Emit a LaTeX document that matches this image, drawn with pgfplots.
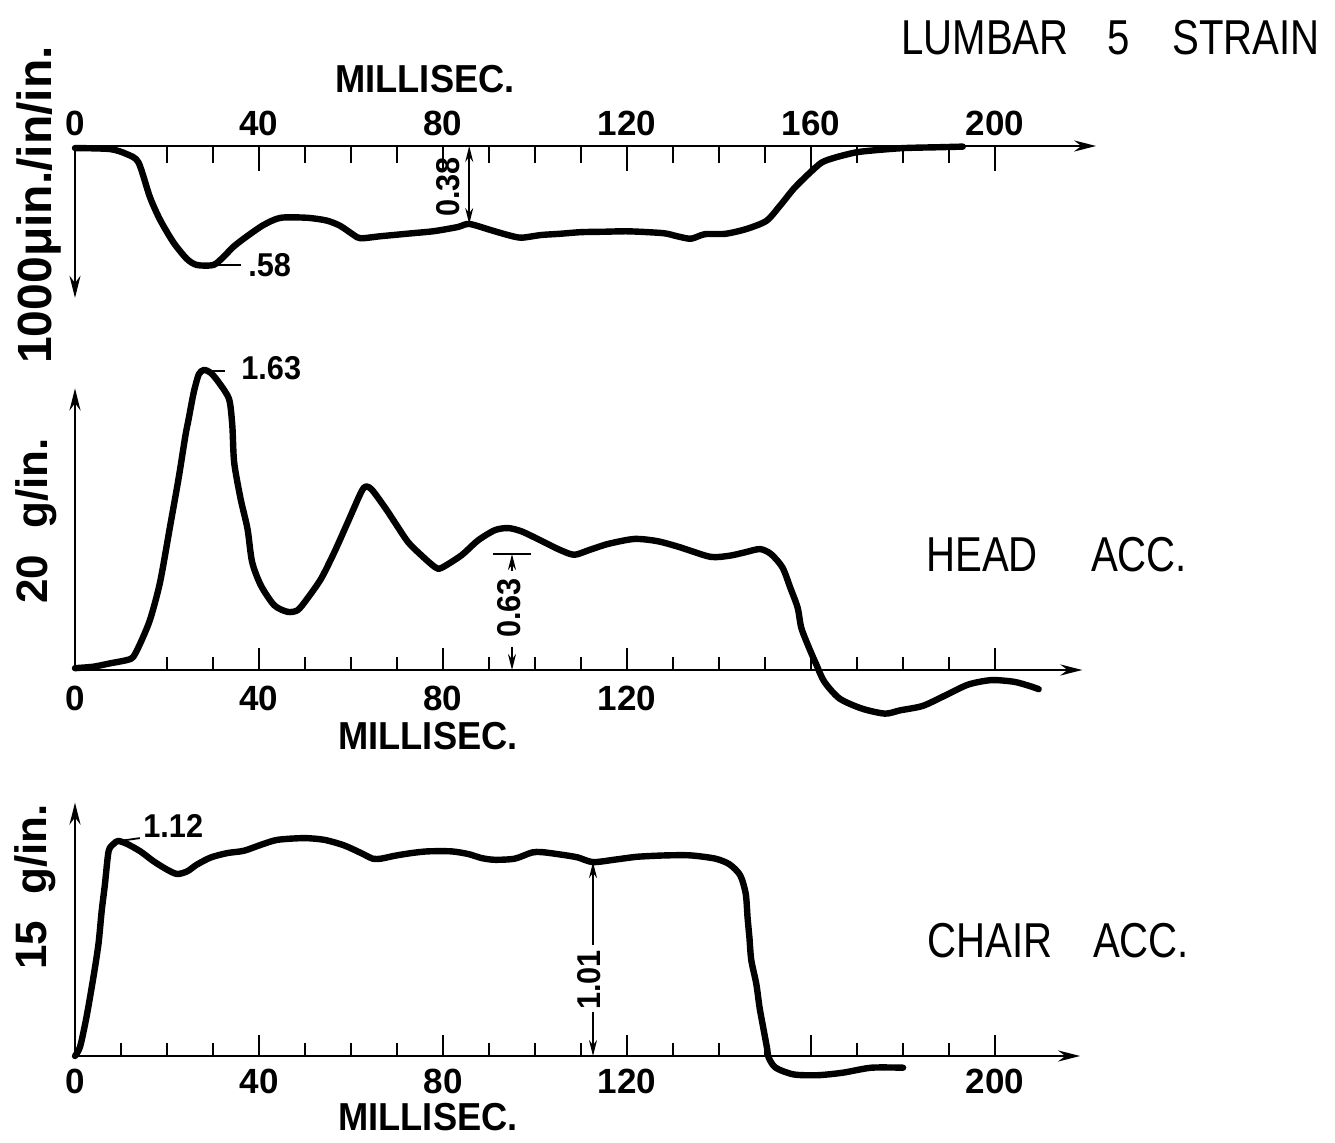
\documentclass[border=0pt]{standalone}
\usepackage{pgfplots}
\pgfplotsset{compat=1.18}
\usepackage{fontspec}
\usetikzlibrary{arrows.meta}
\setmainfont{Liberation Sans}
\newfontfamily\lab{Liberation Sans}[FakeStretch=0.93]
\newfontfamily\labw{Liberation Sans}
\newfontfamily\ttl{Liberation Sans}[FakeStretch=0.82]

% Lumbar strain (in units of 1000 micro-in./in./in., drawn downward)
\pgfplotstableread{
t v
0 0.01
7.6 0.015
11.3 0.04
13.8 0.08
16.3 0.25
18.5 0.36
21.4 0.47
24.3 0.55
26.5 0.58
30.1 0.58
32.3 0.54
34.5 0.49
37.4 0.44
41.0 0.385
44.7 0.35
50.5 0.35
54.8 0.364
57.7 0.39
60.6 0.434
62.1 0.45
66.4 0.44
73.0 0.426
78.1 0.415
83.2 0.395
85.7 0.38
90.4 0.41
94.1 0.434
97.0 0.447
101.3 0.434
105.4 0.428
110.0 0.42
115.0 0.418
120.4 0.416
127.9 0.425
130.9 0.44
133.9 0.452
136.9 0.43
141.4 0.428
145.9 0.405
150.3 0.365
153.3 0.29
156.3 0.207
159.3 0.14
162.3 0.081
165.3 0.056
169.8 0.031
174.3 0.02
180.3 0.01
187.8 0.006
193.0 0.003
}\strain

% Head acceleration (units of 20 g)
\pgfplotstableread{
t v
0 0.01
4.0 0.018
7.6 0.036
11.3 0.054
12.7 0.072
14.5 0.162
16.4 0.28
18.5 0.478
20.7 0.785
22.5 1.038
24.0 1.273
24.7 1.363
25.8 1.507
26.9 1.606
28.0 1.63
29.5 1.615
31.3 1.561
33.5 1.471
34.2 1.327
34.6 1.128
36.0 0.93
37.5 0.767
38.5 0.587
40.4 0.46
43.3 0.352
46.2 0.316
48.4 0.325
50.5 0.388
53.5 0.496
56.4 0.641
59.3 0.803
62.2 0.966
63.3 0.998
64.7 0.975
67.6 0.875
69.5 0.803
72.4 0.695
75.3 0.623
78.2 0.56
79.6 0.554
84.0 0.623
87.6 0.704
91.3 0.76
94.2 0.771
97.1 0.753
101.3 0.703
105.2 0.655
108.5 0.626
111.8 0.652
115.9 0.685
121.6 0.712
126.6 0.70
131.5 0.667
138.1 0.615
142.3 0.621
145.6 0.639
148.9 0.657
151.3 0.63
153.8 0.557
155.5 0.447
157.1 0.338
157.9 0.228
159.6 0.119
161.2 0.027
162.9 -0.064
166.2 -0.155
171.1 -0.21
176.1 -0.237
179.4 -0.219
184.3 -0.195
189.3 -0.137
194.2 -0.079
199.2 -0.055
204.1 -0.064
207.4 -0.086
209.5 -0.104
}\head

% Chair acceleration (units of 15 g)
\pgfplotstableread{
t v
0 0
1.1 0.048
2.5 0.203
4.0 0.41
5.1 0.583
5.8 0.755
6.5 0.893
7.3 1.066
8.4 1.105
9.4 1.12
11.3 1.105
14.2 1.066
17.1 1.014
20.0 0.971
22.2 0.948
24.4 0.962
26.5 0.997
29.5 1.034
33.1 1.057
36.7 1.069
40.4 1.10
44.0 1.126
49.8 1.135
54.2 1.126
58.5 1.097
62.2 1.057
64.7 1.028
66.5 1.028
69.5 1.043
73.1 1.057
76.7 1.066
81.8 1.066
85.5 1.052
88.4 1.031
91.3 1.022
95.6 1.028
99.3 1.06
101.5 1.062
105.4 1.05
109.2 1.035
112.6 1.01
117.7 1.024
122.3 1.038
128.5 1.045
133.8 1.045
139.2 1.028
142.3 0.998
144.6 0.941
145.8 0.845
146.2 0.72
146.6 0.617
147.0 0.5
148.1 0.375
148.8 0.253
149.6 0.148
150.4 0.045
150.8 -0.009
152.3 -0.061
156.2 -0.096
161.5 -0.1
166.9 -0.087
173.1 -0.061
180.0 -0.061
}\chair

\pgfplotsset{
  trace/.style={black, line width=3.2pt, line cap=round, line join=round,
    smooth, tension=0.45, no markers},
  panel/.style={
    scale only axis, xmin=0,
    axis lines=middle, enlargelimits=false, clip=false,
    axis line style={line width=1.3pt, -{Stealth[length=11pt,width=5.5pt]}},
    ytick=\empty,
    tick align=inside,
    major tick style={line width=1pt, black},
    minor tick style={line width=1pt, black},
    hide obscured x ticks=false,
    xticklabel style={font=\labw\bfseries\fontsize{17.5}{17.5}\selectfont,
      anchor=center, inner sep=0pt},
    anchor=origin,
  },
}
\tikzset{
  dim/.style={line width=0.9pt, black},
  dimarrow/.style={line width=0.9pt, -{Stealth[length=8pt,width=4pt]}},
}

\begin{document}
\begin{tikzpicture}
\path[use as bounding box] (0,0) rectangle (667.5pt,571pt);

% Lumbar 5 strain
\begin{axis}[panel, at={(37.5pt,498pt)},
  width=510.6pt, xmax=222,
  y dir=reverse, ymin=0, ymax=0.74, height=75.9pt,
  xtick={0,40,80,120,160,200},
  xticklabels={0,40,80,120,160,200},
  minor xtick={20,30,50,60,70,90,100,110,130,140,150,170,180,190},
  major tick length=12.5pt, minor tick length=8.5pt,
  xticklabel style={yshift=11.5pt}]
\addplot[trace] table[x=t,y=v] {\strain};
\draw[dim] (axis cs:30.5,0.58) -- (axis cs:36.1,0.58);
\draw[line width=0.9pt, {Stealth[length=8pt,width=4pt]}-{Stealth[length=8pt,width=4pt]}]
  (axis cs:85.7,0) -- (axis cs:85.7,0.38);
\end{axis}

% Head acceleration
\begin{axis}[panel, at={(37.5pt,236pt)},
  width=503.7pt, xmax=219,
  ymin=0, ymax=1.53, height=140.8pt,
  xtick={0,40,80,120,200},
  xticklabels={0,40,80,120,{}},
  minor xtick={20,30,50,60,70,90,100,110,130,140,150,160,170,180,190},
  major tick length=11pt, minor tick length=6.5pt,
  xticklabel style={yshift=-14pt}]
\addplot[trace] table[x=t,y=v] {\head};
\draw[dim] (axis cs:29.2,1.625) -- (axis cs:32.6,1.625);
\draw[dim] (axis cs:90.9,0.63) -- (axis cs:99.1,0.63);
\draw[dimarrow] (axis cs:95,0.54) -- (axis cs:95,0.63);
\draw[dimarrow] (axis cs:95,0.125) -- (axis cs:95,0);
\end{axis}

% Chair acceleration
\begin{axis}[panel, at={(37.5pt,43pt)},
  width=502.6pt, xmax=218.5,
  ymin=0, ymax=1.32, height=126.7pt,
  xtick={0,40,80,120,160,200},
  xticklabels={0,40,80,120,{},200},
  minor xtick={10,20,30,50,60,70,90,100,110,130,140,150,170,180,190},
  major tick length=10.5pt, minor tick length=6.5pt,
  xticklabel style={yshift=-12.8pt}]
\addplot[trace] table[x=t,y=v] {\chair};
\draw[dim] (axis cs:9.6,1.12) -- (axis cs:14.1,1.135);
\draw[dimarrow] (axis cs:112.6,0.58) -- (axis cs:112.6,1.01);
\draw[dimarrow] (axis cs:112.6,0.23) -- (axis cs:112.6,0);
\end{axis}

% Titles, axis names and values
\begin{scope}[x=0.5pt,y=0.5pt]
\tikzset{ttlf/.style={font=\ttl\fontsize{24.5}{24.5}\selectfont, inner sep=0pt, anchor=base},
         msf/.style={font=\lab\bfseries\fontsize{19.5}{19.5}\selectfont, inner sep=0pt, anchor=base},
         ylf/.style={font=\labw\bfseries\fontsize{22}{22}\selectfont, inner sep=0pt, anchor=base, rotate=90},
         valf/.style={font=\lab\bfseries\fontsize{16.5}{16.5}\selectfont, inner sep=0pt}}
\node[ttlf] at (985,1087) {LUMBAR};
\node[ttlf] at (1119,1087) {5};
\node[ttlf] at (1246,1087) {STRAIN};
\node[ttlf] at (982,570) {HEAD};
\node[ttlf] at (1139,570) {ACC.};
\node[ttlf] at (990,184) {CHAIR};
\node[ttlf] at (1141,184) {ACC.};

\node[msf] at (425,1049) {MILLISEC.};
\node[msf] at (428,392) {MILLISEC.};
\node[msf] at (428,11) {MILLISEC.};

\node[ylf, font=\labw\bfseries\fontsize{24}{24}\selectfont] at (52,937) {1000μin./in/in.};
\node[ylf] at (47,621) {20\hspace{0.6em}g/in.};
\node[ylf] at (46,255) {15\hspace{0.6em}g/in.};

\node[valf, anchor=base west] at (248,865) {.58};
\node[valf, anchor=base west] at (241,762) {1.63};
\node[valf, anchor=base west] at (143,304) {1.12};
\node[valf, rotate=90] at (448,955) {0.38};
\node[valf, rotate=90] at (509,534) {0.63};
\node[valf, rotate=90] at (589,162) {1.01};
\end{scope}
\end{tikzpicture}
\end{document}
